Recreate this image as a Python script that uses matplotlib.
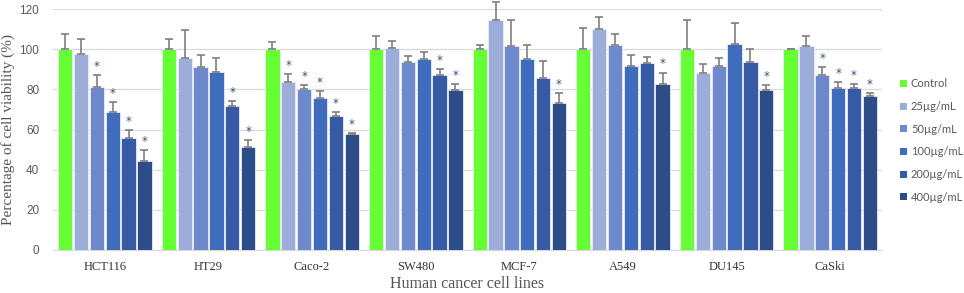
import numpy as np
import matplotlib
matplotlib.use("Agg")
import matplotlib.pyplot as plt
from matplotlib.patches import Patch

cell_lines = ["HCT116", "HT29", "Caco-2", "SW480", "MCF-7", "A549", "DU145", "CaSki"]
series = ["Control", "25\u00b5g/mL", "50\u00b5g/mL", "100\u00b5g/mL", "200\u00b5g/mL", "400\u00b5g/mL"]

# mean viability per cell line, one list per treatment
control = [100, 100, 100, 100, 100, 100, 100, 100]
c25 = [97.7, 95.7, 83.9, 100.5, 114.7, 110.3, 88.4, 101.5]
c50 = [81.4, 90.9, 80.0, 93.7, 101.5, 102.0, 91.7, 87.4]
c100 = [68.7, 88.9, 75.7, 95.2, 95.2, 91.7, 102.5, 80.5]
c200 = [55.8, 71.7, 66.9, 87.4, 85.9, 92.9, 93.7, 80.5]
c400 = [44.4, 51.3, 57.6, 79.6, 73.0, 82.9, 79.6, 76.5]

# upper error (SD)
err_control = [7.5, 5.3, 3.8, 6.5, 2.0, 10.8, 14.6, 0.3]
err_c25 = [7.6, 14.1, 4.0, 3.8, 8.7, 5.9, 4.3, 5.0]
err_c50 = [5.8, 6.1, 2.3, 2.7, 13.1, 5.8, 3.8, 3.8]
err_c100 = [4.9, 6.6, 3.4, 3.3, 6.8, 5.3, 10.6, 3.1]
err_c200 = [3.8, 2.5, 1.8, 2.8, 8.3, 3.1, 6.6, 2.4]
err_c400 = [5.2, 3.7, 0.5, 3.3, 5.3, 5.5, 2.7, 1.8]

# significance markers (1 = *)
sig_c25 = [0, 0, 1, 0, 0, 0, 0, 0]
sig_c50 = [1, 0, 1, 0, 0, 0, 0, 1]
sig_c100 = [1, 0, 1, 0, 0, 0, 0, 1]
sig_c200 = [1, 1, 1, 1, 0, 0, 0, 1]
sig_c400 = [1, 1, 1, 1, 1, 1, 1, 1]

values = [control, c25, c50, c100, c200, c400]
errors = [err_control, err_c25, err_c50, err_c100, err_c200, err_c400]
sigs = [[0] * 8, sig_c25, sig_c50, sig_c100, sig_c200, sig_c400]
colors = ["#66FF33", "#9DADDA", "#6D88CB", "#3F6CBD", "#365BA4", "#2D4D89"]
star_color = "#34507E"

fig = plt.figure(figsize=(9.64, 2.93), dpi=100)
ax = fig.add_axes([0.055, 0.147, 0.86, 0.822])

x = np.arange(len(cell_lines))
slot = 0.153
width = 0.138
for k in range(len(series)):
    pos = x + (k - 2.5) * slot
    ax.bar(pos, values[k], width, color=colors[k], edgecolor="#E8ECF6",
           linewidth=0.6, zorder=3, label=series[k])
    eb = ax.errorbar(pos, values[k], yerr=[np.zeros(len(x)), errors[k]], fmt="none",
                     ecolor="#7F7F7F", elinewidth=1.2, capsize=3, capthick=1.2, zorder=4)
    for art in eb.lines[1] + eb.lines[2]:
        art.set_clip_on(False)
    for i in range(len(x)):
        if sigs[k][i]:
            ax.text(pos[i], values[k][i] + errors[k][i] + 1.0, "*", ha="center",
                    va="bottom", fontsize=8.5, color=star_color, zorder=5)

ax.set_xlim(-0.5, 7.5)
ax.set_ylim(0, 120)
ax.set_yticks(range(0, 121, 20))
ax.grid(axis="y", color="#D9D9D9", linewidth=0.9, zorder=0)
for s in ["top", "right", "left"]:
    ax.spines[s].set_visible(False)
ax.spines["bottom"].set_color("#D9D9D9")
ax.tick_params(axis="both", length=0)
ax.tick_params(axis="y", labelsize=8.5, labelcolor="#595959", pad=10)
ax.set_xticks(x)
ax.set_xticklabels(cell_lines, family="Liberation Serif", fontsize=9, color="#333333")
ax.tick_params(axis="x", pad=8)
for lab in ax.get_yticklabels():
    lab.set_family("Liberation Sans")

ax.set_ylabel("Percentage of cell viability (%)", family="Liberation Serif",
              fontsize=11, color="#555555", labelpad=3)
ax.set_xlabel("Human cancer cell lines", family="Liberation Serif",
              fontsize=11.5, color="#555555", labelpad=2)

handles = [Patch(facecolor=c, edgecolor="none") for c in colors]
fig.legend(handles, series, loc="center left", bbox_to_anchor=(0.934, 0.52),
           frameon=False, handlelength=0.6, handleheight=0.6, handletextpad=0.35,
           labelspacing=1.05, borderaxespad=0, borderpad=0,
           prop={"family": "Lato", "size": 8}, labelcolor="#595959")

fig.savefig("out.png", dpi=100)
